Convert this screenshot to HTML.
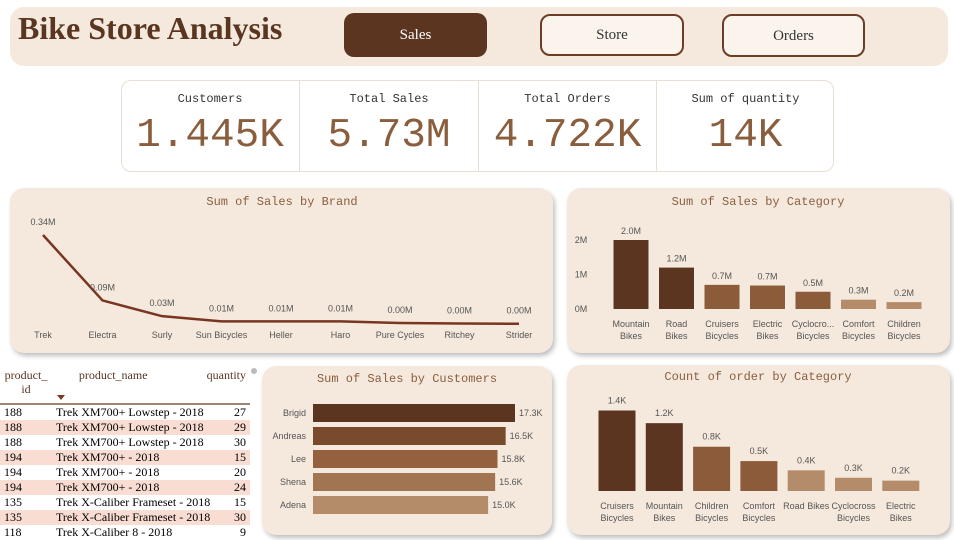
<!DOCTYPE html>
<html><head><meta charset="utf-8">
<style>
body{margin:0;width:954px;height:537px;background:#fff;position:relative;overflow:hidden;font-family:"Liberation Sans",sans-serif}
.abs{position:absolute}
.card{position:absolute;background:#f5e9dd;border-radius:14px;box-shadow:2px 3px 5px rgba(0,0,0,.25)}
.btn{position:absolute;border-radius:10px;font-family:"Liberation Serif",serif;font-size:15px;text-align:center;box-sizing:border-box}
.kt{position:absolute;top:12px;width:100%;text-align:center;font-family:"Liberation Mono",monospace;font-size:12px;color:#333}
.kv{position:absolute;top:33px;width:100%;text-align:center;font-family:"Liberation Mono",monospace;font-size:41px;color:#8a5d3d}
table{border-collapse:collapse;font-family:"Liberation Serif",serif;font-size:12px}
td{height:15px;padding:0 4px;white-space:nowrap}
</style></head><body>
<div class="card" style="left:10px;top:7px;width:938px;height:59px;box-shadow:none"></div>
<div class="abs" style="left:18px;top:10px;font-family:'Liberation Serif',serif;font-weight:bold;font-size:32px;color:#5a3520">Bike Store Analysis</div>
<div class="btn" style="left:344px;top:13px;width:143px;height:44px;background:#5c3520;color:#fff;line-height:44px">Sales</div>
<div class="btn" style="left:540px;top:14px;width:144px;height:42px;background:#fbf4ec;border:2px solid #6b3d25;color:#333;line-height:38px">Store</div>
<div class="btn" style="left:722px;top:14px;width:143px;height:43px;background:#fbf4ec;border:2px solid #6b3d25;color:#333;line-height:40px">Orders</div>

<div class="abs" style="left:121px;top:80px;width:713px;height:92px;border:1px solid #eadfd3;border-radius:10px;box-sizing:border-box"></div>
<div class="abs" style="left:121px;top:80px;width:178px;height:92px"><div class="kt">Customers</div><div class="kv">1.445K</div></div>
<div class="abs" style="left:299px;top:80px;width:1px;height:92px;background:#eadfd3"></div>
<div class="abs" style="left:300px;top:80px;width:178px;height:92px"><div class="kt">Total Sales</div><div class="kv">5.73M</div></div>
<div class="abs" style="left:478px;top:80px;width:1px;height:92px;background:#eadfd3"></div>
<div class="abs" style="left:479px;top:80px;width:177px;height:92px"><div class="kt">Total Orders</div><div class="kv">4.722K</div></div>
<div class="abs" style="left:656px;top:80px;width:1px;height:92px;background:#eadfd3"></div>
<div class="abs" style="left:657px;top:80px;width:177px;height:92px"><div class="kt">Sum of quantity</div><div class="kv">14K</div></div>

<div class="card" style="left:10px;top:188px;width:543px;height:165px"></div>
<div class="card" style="left:567px;top:188px;width:383px;height:165px"></div>
<div class="card" style="left:262px;top:366px;width:290px;height:169px"></div>
<div class="card" style="left:567px;top:365px;width:383px;height:170px"></div>

<div class="abs" style="left:0;top:368px;width:252px">
<table style="width:250px">
<tr style="height:36px;vertical-align:top;color:#5a3520;font-size:12px"><td style="text-align:center;line-height:14px;width:44px">product_<br>id</td><td style="text-align:center">product_name</td><td style="text-align:right">quantity</td></tr>
</table>
<div style="position:absolute;left:57px;top:27px;width:0;height:0;border-left:4px solid transparent;border-right:4px solid transparent;border-top:5px solid #7a3a25"></div>
<div style="position:absolute;left:0;top:35px;width:250px;height:2px;background:#a08470"></div>
<table id="tbl" style="width:250px;margin-top:1px"></table>
</div>
<div class="abs" style="left:251px;top:368px;width:6px;height:6px;border-radius:3px;background:#bbb"></div>

<svg class="abs" style="left:0;top:0" width="954" height="537" id="svg"></svg>
<script>
const NS="http://www.w3.org/2000/svg";
const svg=document.getElementById('svg');
function el(t,a,txt){const e=document.createElementNS(NS,t);for(const k in a)e.setAttribute(k,a[k]);if(txt!==undefined)e.textContent=txt;svg.appendChild(e);return e;}
const TF='"Liberation Sans",sans-serif';

// table
const tblIds=["188","188","188","194","194","194","135","135","118"];
const tblNames=["Trek XM700+ Lowstep - 2018","Trek XM700+ Lowstep - 2018","Trek XM700+ Lowstep - 2018","Trek XM700+ - 2018","Trek XM700+ - 2018","Trek XM700+ - 2018","Trek X-Caliber Frameset - 2018","Trek X-Caliber Frameset - 2018","Trek X-Caliber 8 - 2018"];
const tblQty=[27,29,30,15,20,24,15,30,9];
const tbl=document.getElementById('tbl');
tblIds.forEach((id,i)=>{const tr=document.createElement('tr');


tr.style.background=i%2?'#f9ddd2':'#fff';
tr.innerHTML='<td style="width:44px">'+id+'</td><td>'+tblNames[i]+'</td><td style="text-align:right">'+tblQty[i]+'</td>';tbl.appendChild(tr);});

// Brand line chart
const brands=["Trek","Electra","Surly","Sun Bicycles","Heller","Haro","Pure Cycles","Ritchey","Strider"];
const brandSales=[0.34,0.09,0.03,0.01,0.01,0.01,0.004,0.002,0.001];
const brandLabels=["0.34M","0.09M","0.03M","0.01M","0.01M","0.01M","0.00M","0.00M","0.00M"];
el('text',{x:282,y:205,'text-anchor':'middle','font-family':'"Liberation Mono",monospace','font-size':12,fill:'#8a5d3d',},'Sum of Sales by Brand');
const bx=i=>43+i*59.5, by=v=>324-v/0.34*89;
let d=brands.map((b,i)=>(i?'L':'M')+bx(i)+','+by(brandSales[i])).join(' ');
el('path',{d:d,fill:'none',stroke:'#7a3522','stroke-width':2.5,});
brands.forEach((b,i)=>{
const t=el('text',{x:bx(i),y:338,'text-anchor':'middle','font-family':TF,'font-size':9,fill:'#555'},b);

const l=el('text',{x:bx(i),y:by(brandSales[i])-10,'text-anchor':'middle','font-family':TF,'font-size':9,fill:'#555'},brandLabels[i]);
});

// Sales by category
const catNames=[["Mountain","Bikes"],["Road","Bikes"],["Cruisers","Bicycles"],["Electric","Bikes"],["Cyclocro...","Bicycles"],["Comfort","Bicycles"],["Children","Bicycles"]];
const catSales=[2.0,1.2,0.7,0.68,0.5,0.27,0.2];
const catLabels=["2.0M","1.2M","0.7M","0.7M","0.5M","0.3M","0.2M"];
const catTicks=[0,1,2];
const catColors=["#5c3520","#5c3520","#8c5b3a","#8c5b3a","#8c5b3a","#b58c6a","#b58c6a"];
el('text',{x:758,y:205,'text-anchor':'middle','font-family':'"Liberation Mono",monospace','font-size':12,fill:'#8a5d3d',},'Sum of Sales by Category');
const cx=i=>631+i*45.5, cy=v=>309-v*34.5;
catTicks.forEach(t=>{const e=el('text',{x:581,y:cy(t)+3,'text-anchor':'middle','font-family':TF,'font-size':9,fill:'#555'},t+'M');});
catSales.forEach((v,i)=>{
const r=el('rect',{x:cx(i)-17.5,y:cy(v),width:35,height:309-cy(v),fill:catColors[i]});

const l=el('text',{x:cx(i),y:cy(v)-6,'text-anchor':'middle','font-family':TF,'font-size':9,fill:'#555'},catLabels[i]);

catNames[i].forEach((s,k)=>{const t=el('text',{x:cx(i),y:327+k*12,'text-anchor':'middle','font-family':TF,'font-size':9,fill:'#555'},s);});});

// Customers
const custNames=["Brigid","Andreas","Lee","Shena","Adena"];
const custSales=[17.3,16.5,15.8,15.6,15.0];
const custLabels=["17.3K","16.5K","15.8K","15.6K","15.0K"];
const custColors=["#5c3520","#7a4a2c","#94603e","#a27552","#b58c6a"];
el('text',{x:407,y:382,'text-anchor':'middle','font-family':'"Liberation Mono",monospace','font-size':12,fill:'#8a5d3d',},'Sum of Sales by Customers');
const ux=v=>v/17.3*202, uy=i=>404+i*23;
custNames.forEach((n,i)=>{
const r=el('rect',{x:313,y:uy(i),width:ux(custSales[i]),height:18,fill:custColors[i]});

const t=el('text',{x:306,y:uy(i)+12,'text-anchor':'end','font-family':TF,'font-size':9,fill:'#555'},n);

const l=el('text',{x:313+ux(custSales[i])+4,y:uy(i)+12,'font-family':TF,'font-size':9,fill:'#555'},custLabels[i]);
});

// Count of orders
const ordNames=[["Cruisers","Bicycles"],["Mountain","Bikes"],["Children","Bicycles"],["Comfort","Bicycles"],["Road Bikes",""],["Cyclocross","Bicycles"],["Electric","Bikes"]];
const ordCounts=[1.4,1.18,0.77,0.52,0.36,0.23,0.18];
const ordLabels=["1.4K","1.2K","0.8K","0.5K","0.4K","0.3K","0.2K"];
const ordColors=["#5c3520","#5c3520","#8c5b3a","#8c5b3a","#b58c6a","#b58c6a","#b58c6a"];
el('text',{x:758,y:380,'text-anchor':'middle','font-family':'"Liberation Mono",monospace','font-size':12,fill:'#8a5d3d',},'Count of order by Category');
const ox=i=>617+i*47.3, oy=v=>491-v*57.5;
ordCounts.forEach((v,i)=>{
const r=el('rect',{x:ox(i)-18.5,y:oy(v),width:37,height:491-oy(v),fill:ordColors[i]});

const l=el('text',{x:ox(i),y:oy(v)-7,'text-anchor':'middle','font-family':TF,'font-size':9,fill:'#555'},ordLabels[i]);

ordNames[i].forEach((s,k)=>{const t=el('text',{x:ox(i),y:509+k*12,'text-anchor':'middle','font-family':TF,'font-size':9,fill:'#555'},s);});});
</script>
</body></html>
